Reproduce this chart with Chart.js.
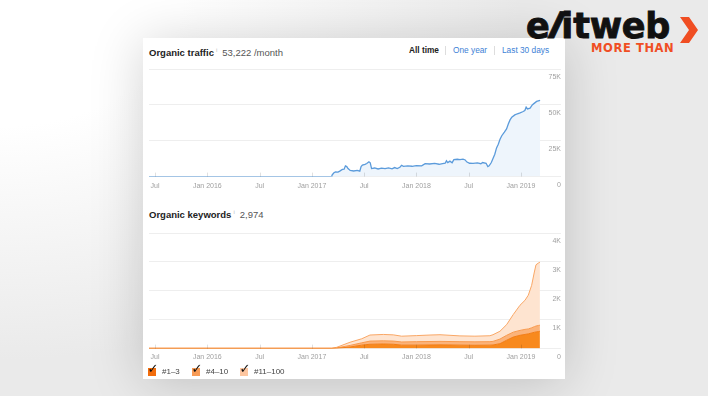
<!DOCTYPE html>
<html>
<head>
<meta charset="utf-8">
<script src="https://cdn.jsdelivr.net/npm/chart.js@4.4.1/dist/chart.umd.min.js"></script>
<style>
  html, body { margin: 0; padding: 0; }
  body {
    width: 708px; height: 396px; overflow: hidden; position: relative;
    font-family: "Liberation Sans", Arial, sans-serif;
    background: radial-gradient(ellipse 520px 360px at 0% 0%, #ffffff 35%, #eaeaea 100%);
  }
  .card {
    position: absolute; left: 143px; top: 38px; width: 422px; height: 341px;
    background: #fff; box-shadow: 0 4px 50px rgba(0, 0, 0, 0.18);
  }
  .head { position: absolute; left: 6px; font-size: 9.5px; line-height: 12px; color: #555; white-space: nowrap; }
  .head b { color: #222; }
  .head sup { font-size: 6px; color: #bbb; margin: 0 5px 0 2px; }
  .nav { position: absolute; top: 6px; font-size: 8.3px; line-height: 12px; white-space: nowrap; }
  .nav span { position: absolute; top: 0; }
  .nav .on { color: #222; font-weight: bold; }
  .nav .lnk { color: #3d7fd6; }
  .nav .sep { width: 1px; height: 9px; top: 2px; background: #ddd; }
  canvas { position: absolute; left: -3px; }
  .legend { position: absolute; left: 5px; top: 328px; font-size: 8px; line-height: 12px; color: #444; white-space: nowrap; }
  .legend .item { position: absolute; top: 0; }
  .legend .box { position: absolute; left: 0; top: 2px; width: 8px; height: 8px; }
  .legend .box i { position: absolute; left: -0.5px; top: -7px; font-style: normal; font-size: 13px; line-height: 15px; font-weight: bold; color: #111; font-family: "DejaVu Sans", sans-serif; }
  .legend .txt { position: absolute; left: 14px; top: 0; }
  .logo { position: absolute; left: 526px; top: 9px; font-family: "DejaVu Sans", sans-serif; font-weight: bold; font-size: 35px; line-height: 35px; color: #111; letter-spacing: -0.2px; -webkit-text-stroke: 0.9px #111; z-index: 2; }
  .logo .sl { display: inline-block; transform: skewX(-25deg); }
  .tag { position: absolute; left: 591px; top: 42px; font-family: "DejaVu Sans", sans-serif; font-weight: bold; font-size: 11.5px; line-height: 12px; color: #f04e23; letter-spacing: 0.6px; z-index: 2; }
  .chev { position: absolute; left: 679px; top: 16px; z-index: 2; }
</style>
</head>
<body>
<div class="card">
  <div class="head" style="top:6px"><b>Organic traffic</b><sup>i</sup>53,222 /month</div>
  <div class="nav">
    <span class="on" style="left:266px">All time</span>
    <span class="sep" style="left:302px"></span>
    <span class="lnk" style="left:310px">One year</span>
    <span class="sep" style="left:351px"></span>
    <span class="lnk" style="left:359px">Last 30 days</span>
  </div>
  <canvas id="traffic" width="421" height="132" style="top:25px"></canvas>

  <div class="head" style="top:168px"><b>Organic keywords</b><sup>i</sup>2,974</div>
  <canvas id="keywords" width="421" height="138" style="top:189px"></canvas>

  <div class="legend">
    <span class="item" style="left:0px"><span class="box" style="background:#f26d0c"><i>✓</i></span><span class="txt">#1–3</span></span>
    <span class="item" style="left:44px"><span class="box" style="background:#f89b55"><i>✓</i></span><span class="txt">#4–10</span></span>
    <span class="item" style="left:92px"><span class="box" style="background:#fdc6a0"><i>✓</i></span><span class="txt">#11–100</span></span>
  </div>
</div>

<div class="logo">e<span class="sl">l</span>itweb</div>
<svg class="chev" width="20" height="28" viewBox="0 0 20 28"><polygon points="1,1 10,1 19,14 10,27 1,27 10,14" fill="#f04e23"/></svg>
<div class="tag">MORE THAN</div>

<script>
// x positions are months counted from Jan 2015 (6 = Jul 2015, 12 = Jan 2016 ...)
const xMin = 5.3;
const xMax = 52.6;
const xTickMonths = [6, 12, 18, 24, 30, 36, 42, 48];
const xTickLabels = ["Jul", "Jan 2016", "Jul", "Jan 2017", "Jul", "Jan 2018", "Jul", "Jan 2019"];

// Organic traffic
const trafficMonths = [
  5.3, 26.2, 26.3, 26.5, 26.7, 27.0, 27.2, 27.5, 27.7, 27.85, 28.0, 28.15, 28.4, 28.8,
  29.2, 29.5, 29.65, 29.8, 30.1, 30.3, 30.55, 30.7, 30.85, 31.2, 31.6, 32.0, 32.4, 32.8,
  33.2, 33.5, 33.8, 34.1, 34.3, 34.5, 35.0, 35.5, 36.0, 36.6, 37.0, 37.5, 38.1, 38.6,
  39.0, 39.3, 39.45, 39.6, 39.85, 40.1, 40.3, 40.7, 41.0, 41.35, 41.6, 41.77, 42.1, 42.5,
  43.0, 43.4, 43.6, 44.0, 44.2, 44.35, 44.6, 45.0, 45.2, 45.4, 45.6, 45.8, 46.1, 46.35,
  46.55, 46.75, 46.95, 47.3, 47.6, 47.9, 48.2, 48.45, 48.6, 48.75, 49.05, 49.3, 49.45,
  49.8, 50.0, 50.2
];
const trafficValues = [
  0, 0, 900, 2500, 3300, 3100, 3800, 5000, 5200, 7500, 7000, 5600, 4300, 3900,
  4300, 3800, 7000, 8000, 8500, 9100, 10300, 9600, 5600, 6000, 5300, 5900, 5500, 6100,
  5400, 6300, 5600, 6500, 7900, 7100, 7500, 7200, 7700, 7500, 9000, 8800, 9200, 8600,
  9100, 9300, 11000, 9800, 10800, 9700, 11800, 12100, 11800, 12200, 11600, 10300, 9300, 9200,
  9500, 9000, 9800, 9300, 7000, 7500, 9800, 15600, 20000, 22600, 26000, 28500, 31000, 33200,
  36700, 39500, 41400, 43000, 43800, 44400, 45200, 46000, 48400, 47200, 47700, 50000, 50700,
  52400, 52800, 53200
];
const trafficTicks = [0, 25000, 50000, 75000];

// Organic keywords, by position group
const keywordMonths = [
  5.3, 26.3, 26.85, 28.38, 29.72, 30.67, 32.2, 33.35, 34.31, 36.03, 37.56, 38.71, 41.0,
  42.72, 44.44, 44.79, 45.59, 46.36, 47.12, 47.89, 48.46, 48.85, 49.23, 49.54, 49.73, 50.0, 50.18
];
const kwPos1to3 = [
  5, 5, 10, 55, 120, 150, 160, 150, 120, 120, 125, 130, 120,
  115, 120, 125, 170, 290, 400, 460, 490, 510, 540, 565, 575, 590, 600
];
const kwPos4to10 = [
  5, 5, 15, 55, 80, 110, 110, 110, 110, 120, 120, 120, 120,
  120, 120, 125, 160, 170, 170, 170, 175, 170, 180, 195, 205, 210, 210
];
const kwPos11to100 = [
  5, 5, 20, 110, 140, 210, 220, 215, 200, 210, 225, 230, 200,
  195, 205, 230, 270, 370, 610, 870, 1005, 1170, 1470, 1890, 2120, 2160, 2180
];
const keywordTicks = [0, 1000, 2000, 3000, 4000];

Chart.defaults.font.family = '"Liberation Sans", Arial, sans-serif';

// small inner tick marks above the baseline, at the x tick positions
const innerTicks = {
  id: "innerTicks",
  afterDatasetsDraw(chart) {
    const x = chart.scales.x;
    const ctx = chart.ctx;
    const bottom = chart.chartArea.bottom;
    ctx.save();
    ctx.strokeStyle = "rgba(0,0,0,0.12)";
    ctx.lineWidth = 1;
    x.ticks.forEach((t, i) => {
      const px = Math.round(x.getPixelForTick(i)) + 0.5;
      ctx.beginPath();
      ctx.moveTo(px, bottom - 4);
      ctx.lineTo(px, bottom);
      ctx.stroke();
    });
    ctx.restore();
  },
};

function kLabel(v) {
  return v === 0 ? "0" : v / 1000 + "K";
}

function chartOptions(yTicks, stacked, xPad) {
  return {
    responsive: false,
    animation: false,
    layout: { padding: { top: 6, left: 9, right: 0, bottom: 0 } },
    plugins: { legend: { display: false }, tooltip: { enabled: false } },
    elements: { point: { radius: 0 }, line: { tension: 0 } },
    scales: {
      x: {
        type: "linear",
        min: xMin,
        max: xMax,
        grid: { display: false, drawTicks: false },
        border: { display: false },
        afterBuildTicks: (axis) => {
          axis.ticks = xTickMonths.map((v) => ({ value: v }));
        },
        ticks: {
          autoSkip: false,
          maxRotation: 0,
          padding: xPad,
          color: "#a0a0a0",
          font: { size: 7 },
          callback: (v, i) => xTickLabels[i],
        },
      },
      y: {
        position: "right",
        stacked: stacked,
        min: yTicks[0],
        max: yTicks[yTicks.length - 1],
        grid: { color: "#eeeeee", drawTicks: false },
        border: { display: false },
        afterBuildTicks: (axis) => {
          axis.ticks = yTicks.map((v) => ({ value: v }));
        },
        ticks: {
          mirror: true,
          padding: 0,
          labelOffset: 8,
          color: "#a0a0a0",
          font: { size: 7 },
          callback: (v) => kLabel(v),
        },
      },
    },
  };
}

function points(months, values) {
  return months.map((m, i) => ({ x: m, y: values[i] }));
}

new Chart(document.getElementById("traffic"), {
  type: "line",
  data: {
    datasets: [
      {
        label: "Organic traffic",
        data: points(trafficMonths, trafficValues),
        borderColor: "#5b9bdb",
        borderWidth: 1.3,
        backgroundColor: "#eef5fc",
        fill: "origin",
      },
    ],
  },
  options: chartOptions(trafficTicks, false, 5),
  plugins: [innerTicks],
});

new Chart(document.getElementById("keywords"), {
  type: "line",
  data: {
    datasets: [
      {
        label: "#1–3",
        data: points(keywordMonths, kwPos1to3),
        borderColor: "#f27d16",
        borderWidth: 1,
        backgroundColor: "#f8891d",
        fill: "origin",
      },
      {
        label: "#4–10",
        data: points(keywordMonths, kwPos4to10),
        borderColor: "#f89a4e",
        borderWidth: 1,
        backgroundColor: "#fbb37a",
        fill: "-1",
      },
      {
        label: "#11–100",
        data: points(keywordMonths, kwPos11to100),
        borderColor: "#f9a766",
        borderWidth: 1,
        backgroundColor: "#fee4d0",
        fill: "-1",
      },
    ],
  },
  options: chartOptions(keywordTicks, true, 4),
  plugins: [innerTicks],
});
</script>
</body>
</html>
